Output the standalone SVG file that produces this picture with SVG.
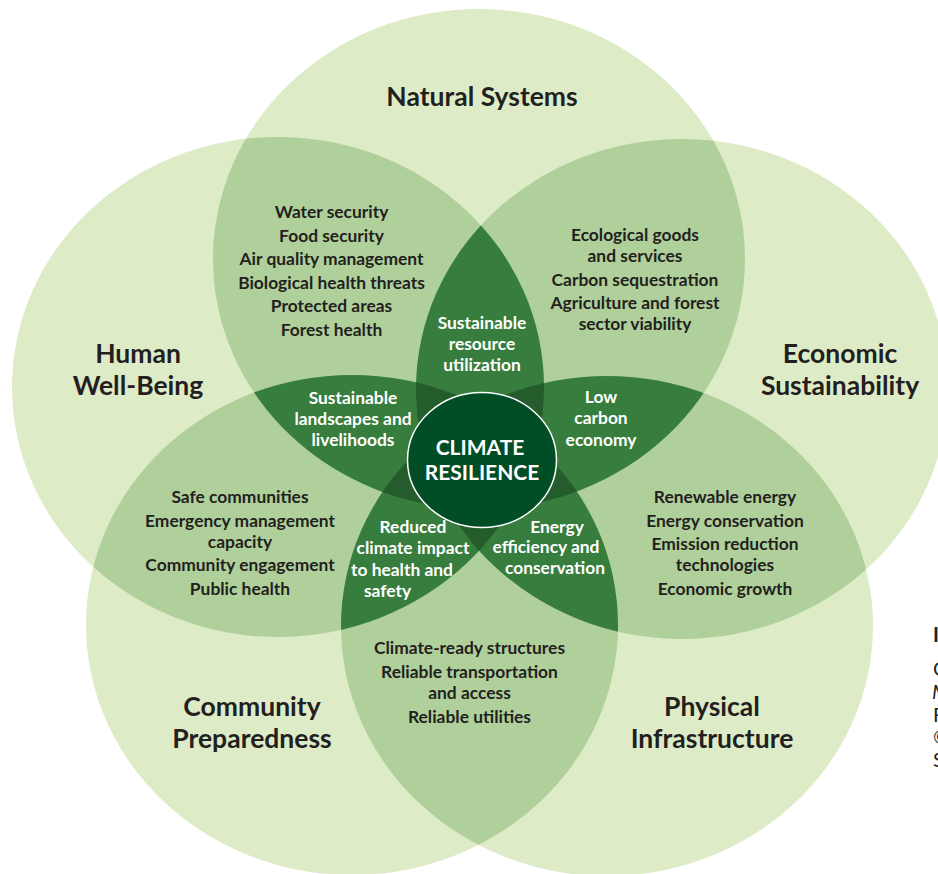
<svg xmlns="http://www.w3.org/2000/svg" xmlns:xlink="http://www.w3.org/1999/xlink" width="938" height="874" viewBox="0 0 938 874">
<style>
.l1{fill:#ddebc6}
.l2{fill:#b0d09b}
.l3{fill:#377d3e}
.l4{fill:#245d2b}
text{font-family:Lato,"Open Sans","Liberation Sans",sans-serif;font-weight:700;text-anchor:middle}
.h{font-size:26.5px;fill:#231f20}
.t{font-size:17.4px;fill:#231f20}
.w{font-size:17.4px;fill:#ffffff}
.c{font-size:21px;fill:#ffffff}
.cap{font-size:20px;fill:#231f20;text-anchor:start}
</style>
<defs>
<ellipse id="eN" cx="479" cy="259" rx="266" ry="250"/>
<ellipse id="eH" cx="278" cy="387" rx="266" ry="250"/>
<ellipse id="eE" cx="682" cy="389" rx="266" ry="250"/>
<ellipse id="eC" cx="352" cy="625" rx="266" ry="250"/>
<ellipse id="eP" cx="607" cy="626" rx="266" ry="250"/>
<clipPath id="kN"><use xlink:href="#eN"/></clipPath>
<clipPath id="kH"><use xlink:href="#eH"/></clipPath>
<clipPath id="kE"><use xlink:href="#eE"/></clipPath>
<clipPath id="kC"><use xlink:href="#eC"/></clipPath>
<clipPath id="kP"><use xlink:href="#eP"/></clipPath>
</defs>
<rect width="938" height="874" fill="#ffffff"/>
<g id="circles">
<use xlink:href="#eN" class="l1"/>
<use xlink:href="#eH" class="l1"/>
<use xlink:href="#eE" class="l1"/>
<use xlink:href="#eC" class="l1"/>
<use xlink:href="#eP" class="l1"/>
</g>
<g id="overlaps2">
<g clip-path="url(#kN)"><use xlink:href="#eH" class="l2"/><use xlink:href="#eE" class="l2"/><use xlink:href="#eC" class="l2"/><use xlink:href="#eP" class="l2"/></g>
<g clip-path="url(#kH)"><use xlink:href="#eE" class="l2"/><use xlink:href="#eC" class="l2"/><use xlink:href="#eP" class="l2"/></g>
<g clip-path="url(#kE)"><use xlink:href="#eC" class="l2"/><use xlink:href="#eP" class="l2"/></g>
<g clip-path="url(#kC)"><use xlink:href="#eP" class="l2"/></g>
</g>
<g id="overlaps3">
<g clip-path="url(#kN)"><g clip-path="url(#kH)"><use xlink:href="#eE" class="l3"/><use xlink:href="#eC" class="l3"/><use xlink:href="#eP" class="l3"/></g></g>
<g clip-path="url(#kN)"><g clip-path="url(#kE)"><use xlink:href="#eC" class="l3"/><use xlink:href="#eP" class="l3"/></g></g>
<g clip-path="url(#kN)"><g clip-path="url(#kC)"><use xlink:href="#eP" class="l3"/></g></g>
<g clip-path="url(#kH)"><g clip-path="url(#kE)"><use xlink:href="#eC" class="l3"/><use xlink:href="#eP" class="l3"/></g></g>
<g clip-path="url(#kH)"><g clip-path="url(#kC)"><use xlink:href="#eP" class="l3"/></g></g>
<g clip-path="url(#kE)"><g clip-path="url(#kC)"><use xlink:href="#eP" class="l3"/></g></g>
</g>
<g id="overlaps4">
<g clip-path="url(#kN)"><g clip-path="url(#kH)"><g clip-path="url(#kE)"><use xlink:href="#eC" class="l4"/><use xlink:href="#eP" class="l4"/></g></g></g>
<g clip-path="url(#kN)"><g clip-path="url(#kH)"><g clip-path="url(#kC)"><use xlink:href="#eP" class="l4"/></g></g></g>
<g clip-path="url(#kN)"><g clip-path="url(#kE)"><g clip-path="url(#kC)"><use xlink:href="#eP" class="l4"/></g></g></g>
<g clip-path="url(#kH)"><g clip-path="url(#kE)"><g clip-path="url(#kC)"><use xlink:href="#eP" class="l4"/></g></g></g>
</g>
<g id="connectors"/>
<g id="node-natural-systems"><text class="h" x="482" y="106">Natural Systems</text></g>
<g id="node-human-well-being"><text class="h" x="138" y="363">Human</text><text class="h" x="138" y="395">Well-Being</text></g>
<g id="node-economic-sustainability"><text class="h" x="840" y="363">Economic</text><text class="h" x="840" y="395">Sustainability</text></g>
<g id="node-community-preparedness"><text class="h" x="252" y="716">Community</text><text class="h" x="252" y="748">Preparedness</text></g>
<g id="node-physical-infrastructure"><text class="h" x="712" y="716">Physical</text><text class="h" x="712" y="748">Infrastructure</text></g>
<g id="node-natural-human">
<text class="t" x="331.5" y="218">Water security</text>
<text class="t" x="331.5" y="242">Food security</text>
<text class="t" x="331.5" y="265">Air quality management</text>
<text class="t" x="331.5" y="289">Biological health threats</text>
<text class="t" x="331.5" y="312">Protected areas</text>
<text class="t" x="331.5" y="336">Forest health</text>
</g>
<g id="node-natural-economic">
<text class="t" x="635" y="241">Ecological goods</text>
<text class="t" x="635" y="262">and services</text>
<text class="t" x="635" y="286">Carbon sequestration</text>
<text class="t" x="635" y="309">Agriculture and forest</text>
<text class="t" x="635" y="330">sector viability</text>
</g>
<g id="node-human-community">
<text class="t" x="240" y="503">Safe communities</text>
<text class="t" x="240" y="527">Emergency management</text>
<text class="t" x="240" y="548">capacity</text>
<text class="t" x="240" y="571">Community engagement</text>
<text class="t" x="240" y="595">Public health</text>
</g>
<g id="node-economic-physical">
<text class="t" x="725" y="503">Renewable energy</text>
<text class="t" x="725" y="527">Energy conservation</text>
<text class="t" x="725" y="550">Emission reduction</text>
<text class="t" x="725" y="571">technologies</text>
<text class="t" x="725" y="595">Economic growth</text>
</g>
<g id="node-community-physical">
<text class="t" x="469.5" y="654">Climate-ready structures</text>
<text class="t" x="469.5" y="678">Reliable transportation</text>
<text class="t" x="469.5" y="699">and access</text>
<text class="t" x="469.5" y="723">Reliable utilities</text>
</g>
<g id="node-sustainable-resource">
<text class="w" x="482" y="329">Sustainable</text>
<text class="w" x="482" y="350">resource</text>
<text class="w" x="482" y="371">utilization</text>
</g>
<g id="node-sustainable-landscapes">
<text class="w" x="353" y="404">Sustainable</text>
<text class="w" x="353" y="425">landscapes and</text>
<text class="w" x="353" y="446">livelihoods</text>
</g>
<g id="node-low-carbon">
<text class="w" x="601" y="403">Low</text>
<text class="w" x="601" y="424">carbon</text>
<text class="w" x="601" y="446">economy</text>
</g>
<g id="node-reduced-impact">
<text class="w" x="413" y="533">Reduced</text>
<text class="w" x="413" y="554">climate impact</text>
<text class="w" x="402" y="576">to health and</text>
<text class="w" x="387.5" y="597">safety</text>
</g>
<g id="node-energy-efficiency">
<text class="w" x="557" y="533">Energy</text>
<text class="w" x="546" y="553">efficiency and</text>
<text class="w" x="555" y="574">conservation</text>
</g>
<g id="node-climate-resilience">
<ellipse cx="482" cy="460" rx="74.5" ry="67.5" fill="#004d26" stroke="#ffffff" stroke-width="1.5"/>
<text class="c" x="480" y="455">CLIMATE</text>
<text class="c" x="482" y="480">RESILIENCE</text>
</g>
<g id="caption-fragment">
<text class="cap" x="933" y="642">I</text>
<text class="cap" x="933" y="676" style="font-weight:400">C</text>
<text class="cap" x="932" y="699" style="font-weight:400;font-style:italic">M</text>
<text class="cap" x="933" y="722" style="font-weight:400">F</text>
<text class="cap" x="933" y="744" style="font-weight:400">©</text>
<text class="cap" x="933" y="767" style="font-weight:400">S</text>
</g>
</svg>
